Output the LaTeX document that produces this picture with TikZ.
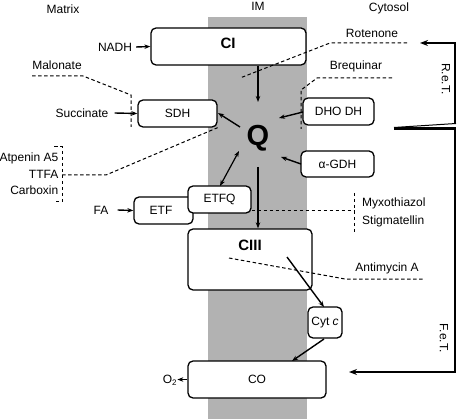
\documentclass[tikz,border=0pt]{standalone}
\usepackage{fontspec}
\setmainfont{Liberation Sans}
\usetikzlibrary{arrows.meta}
\begin{document}
\begin{tikzpicture}[x=1pt,y=-1pt,
  lbl/.style={font=\fontsize{12}{14}\selectfont, inner sep=0pt},
  box/.style={draw, fill=white, rounded corners=5pt, line width=1.3pt, inner sep=0pt, font=\fontsize{12}{14}\selectfont},
  bold/.style={font=\bfseries\fontsize{15}{16}\selectfont, inner sep=0pt},
  arr/.style={line width=1.4pt, -{Stealth[length=6pt,width=4.5pt]}},
  darr/.style={line width=1.2pt, {Stealth[length=6pt,width=4.5pt]}-{Stealth[length=6pt,width=4.5pt]}},
  inh/.style={line width=1pt, dash pattern=on 3.5pt off 2.5pt},
  bigarr/.style={line width=2.2pt, -{Stealth[length=8pt,width=6pt]}}
]
\useasboundingbox (0,0) rectangle (457,419);
% membrane
\fill[black!30] (208,17) rectangle (307,419);

% headers
\node[lbl] (matrix) at (63,9) {Matrix};
\node[lbl] (im) at (258,6) {IM};
\node[lbl] (cytosol) at (389,8) {Cytosol};

% boxes
\node[box, minimum width=155pt, minimum height=37pt] (CI) at (228.5,46.5) {};
\node[bold] (CIt) at (228,43) {CI};
\node[box, minimum width=79pt, minimum height=27pt] (SDH) at (177.5,113.5) {SDH};
\node[box, minimum width=71pt, minimum height=27pt] (DHODH) at (338.5,111.5) {DHO DH};
\node[box, minimum width=73pt, minimum height=26pt] (GDH) at (337.5,164) {α-GDH};
\node[box, minimum width=59pt, minimum height=27pt] (ETF) at (163.5,210.5) {};
\node[lbl] (ETFt) at (161,210.5) {ETF};
\node[box, minimum width=63pt, minimum height=27pt] (ETFQ) at (219.5,199.5) {ETFQ};
\node[box, minimum width=124pt, minimum height=61pt] (CIII) at (250,259.5) {};
\node[bold] (CIIIt) at (250,245) {CIII};
\node[box, minimum width=34pt, minimum height=31pt] (Cytc) at (325,322.5) {Cyt \textit{c}};
\node[box, minimum width=138pt, minimum height=37pt] (CO) at (257,379.5) {CO};

% Q
\node[font=\bfseries\fontsize{29}{30}\selectfont, inner sep=0pt] (Q) at (258,138) {Q};

% substrate labels
\node[lbl] (nadh) at (115,47) {NADH};
\node[lbl] (succ) at (82,113) {Succinate};
\node[lbl] (fa) at (101,210) {FA};
\node[lbl] (o2) at (170,380) {O\textsubscript{2}};

% coordinates
\coordinate (qn) at (258,102);
\coordinate (qs) at (258,167);
\coordinate (qsdh) at (240,127);
\coordinate (sdhq) at (218,113);
\coordinate (qdho) at (279,118);
\coordinate (dhoq) at (303,112);
\coordinate (qgdh) at (281,157);
\coordinate (gdhq) at (301,164);
\coordinate (qetf) at (239,151);
\coordinate (etfq) at (220,186);
\coordinate (c3a) at (287,257);
\coordinate (cyta) at (324,307);
\coordinate (cytb) at (324,339);
\coordinate (coa) at (292,361);

% arrows
\draw[arr] (nadh.east) ++(4,0) -- (CI.west);
\draw[arr] (succ.east) ++(6,0) -- (SDH.west);
\draw[arr] (fa.east) ++(9,0) -- (ETF.west);
\draw[arr] (CO.west) -- ++(-10,0) coordinate (o2t);
\draw[arr] (CI.south -| qn) -- (qn);
\draw[arr] (qs) -- (CIII.north -| qs);
\draw[arr] (qsdh) -- (sdhq);
\draw[arr] (dhoq) -- (qdho);
\draw[arr] (gdhq) -- (qgdh);
\draw[darr] (etfq) -- (qetf);
\draw[arr] (c3a) -- (cyta);
\draw[arr] (cytb) -- (coa);

% inhibitors
\node[lbl] (rot) at (372,33) {Rotenone};
\node[lbl] (breq) at (356,66) {Brequinar};
\node[lbl] (malo) at (57,65) {Malonate};
\node[lbl, anchor=east] (atp) at (58.5,158) {Atpenin A5};
\node[lbl, anchor=east] (ttfa) at (58.5,174) {TTFA};
\node[lbl, anchor=east] (carb) at (58.5,190) {Carboxin};
\node[lbl, anchor=west] (myx) at (362,203) {Myxothiazol};
\node[lbl, anchor=west] (stig) at (362,221) {Stigmatellin};
\node[lbl] (anti) at (387,268) {Antimycin A};

\draw[inh] (407,43) -- (330,43) -- (240,78);
\draw[inh] (392,78) -- (317,78) -- (301,90) -- (301,129);
\draw[inh] (32,76) -- (83,76) -- (131,95) -- (131,127);
\draw[inh] (54,147) -- (62,147) -- (62,202) -- (54,202);
\draw[inh] (62,175) -- (106,175) -- (SDH.south east);
\draw[inh] (ETFQ.east |- 0,211) -- (354,211);
\draw[inh] (354,193) -- (354,232);
\draw[inh] (229,258) -- (345,279) -- (424,279);

% reverse / forward electron transport
\draw[line width=2.2pt] (394,128.5) -- (456,128.5);
\draw[line width=1pt] (394,127.5) -- (456,123.5);
\draw[bigarr] (455,124) -- (455,43) -- (420,43);
\draw[bigarr] (455,127.5) -- (455,372) -- (349,372);
\node[lbl, rotate=-90] (ret) at (446,79) {R.e.T.};
\node[lbl, rotate=-90] (fet) at (444,338) {F.e.T.};
\end{tikzpicture}
\end{document}
